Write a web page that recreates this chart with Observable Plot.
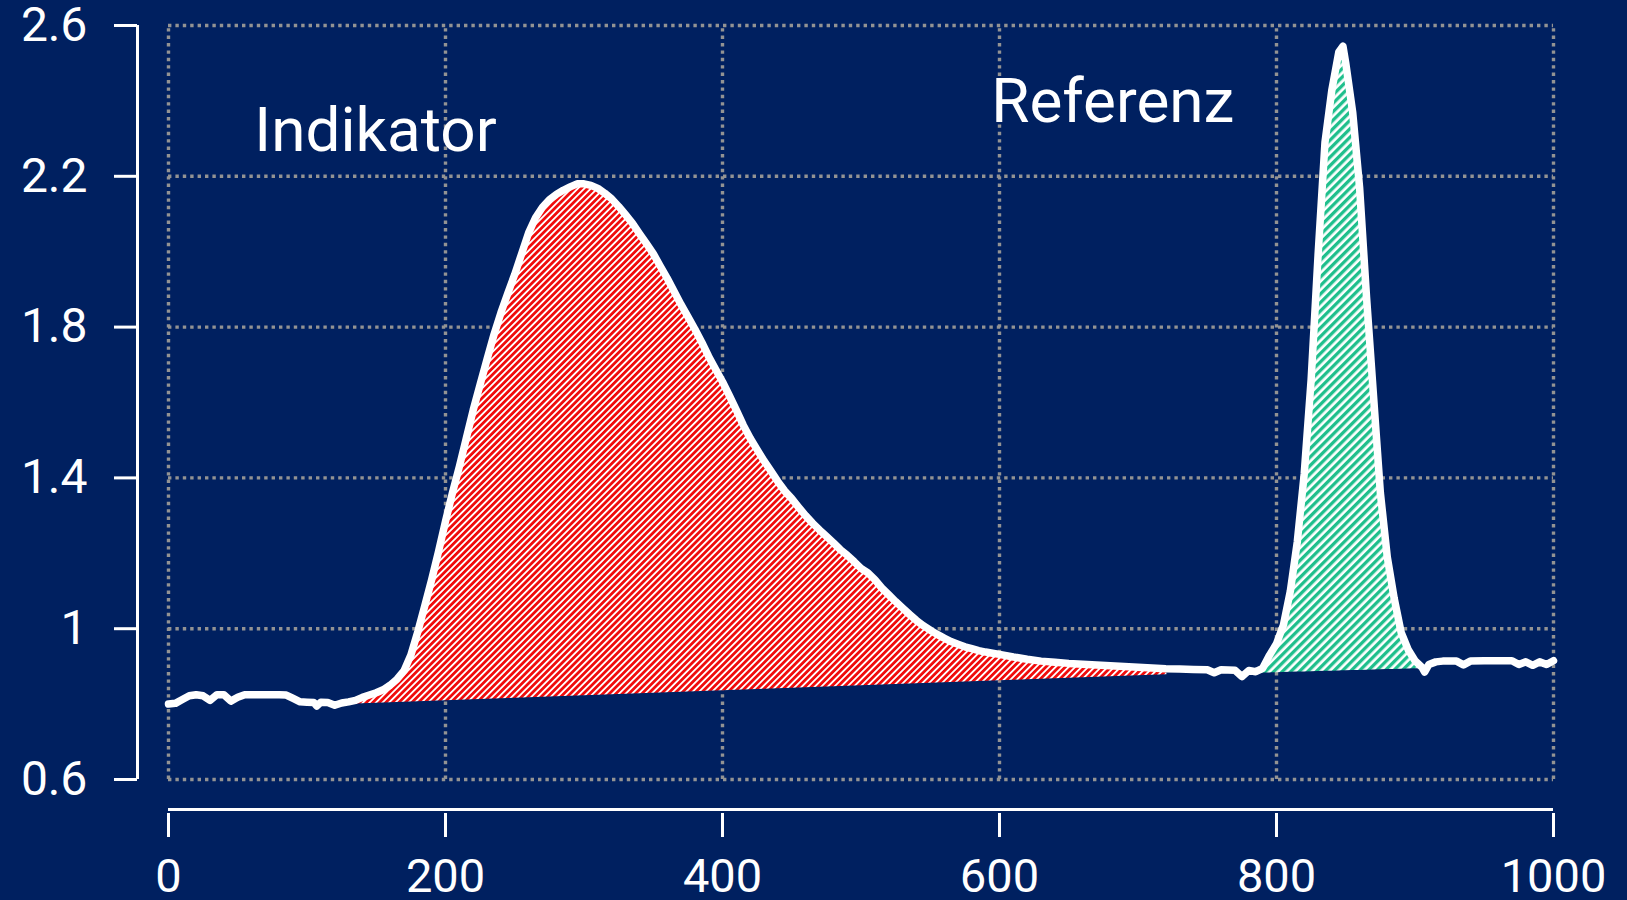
<!DOCTYPE html>
<html>
<head>
<meta charset="utf-8">
<script src="https://cdn.jsdelivr.net/npm/d3@7"></script>
<script src="https://cdn.jsdelivr.net/npm/@observablehq/plot@0.6"></script>
<style>
  html, body { margin: 0; padding: 0; background: #002060; }
  #chart { width: 1627px; height: 900px; }
</style>
</head>
<body>
<div id="chart"></div>
<script>
// ---- data ----
const xTicks = [0, 200, 400, 600, 800, 1000];
const xTickLabels = ["0", "200", "400", "600", "800", "1000"];
const yTicks = [0.6, 1, 1.4, 1.8, 2.2, 2.6];
const yTickLabels = ["0.6", "1", "1.4", "1.8", "2.2", "2.6"];

const wavelength = [
  0, 5, 10, 15, 20, 25, 30, 35, 40, 45, 50, 55, 60, 65, 70, 75, 80, 85, 90, 95,
  100, 105, 107, 110, 115, 120, 125, 130, 135, 140, 145, 150, 155, 160, 165, 170, 175, 180, 185, 190,
  195, 200, 205, 210, 215, 220, 225, 230, 235, 240, 245, 250, 255, 260, 265, 270, 275, 280, 285, 290,
  295, 300, 305, 310, 315, 320, 325, 330, 335, 340, 345, 350, 355, 360, 365, 370, 375, 380, 385, 390,
  395, 400, 405, 410, 415, 420, 425, 430, 435, 440, 445, 450, 455, 460, 465, 470, 475, 480, 485, 490,
  495, 500, 505, 510, 515, 520, 525, 530, 535, 540, 545, 550, 555, 560, 565, 570, 575, 580, 585, 590,
  595, 600, 610, 620, 630, 640, 650, 660, 670, 680, 690, 700, 710, 720, 730, 740, 750, 755, 760, 770,
  775, 780, 785, 790, 795, 800, 805, 810, 815, 820, 825, 830, 835, 840, 845, 848, 850, 855, 860, 865,
  870, 875, 880, 885, 890, 895, 900, 905, 907, 910, 915, 920, 930, 935, 940, 950, 960, 970, 975, 980,
  985, 990, 995, 1000
];
const signal = [
  0.800, 0.802, 0.812, 0.822, 0.825, 0.822, 0.810, 0.825, 0.825, 0.808, 0.818, 0.825, 0.825, 0.825, 0.825, 0.825, 0.825, 0.824, 0.815, 0.806,
  0.805, 0.804, 0.795, 0.805, 0.804, 0.797, 0.803, 0.806, 0.810, 0.818, 0.824, 0.830, 0.838, 0.850, 0.866, 0.888, 0.930, 0.992, 1.060, 1.130,
  1.205, 1.285, 1.360, 1.430, 1.505, 1.580, 1.648, 1.715, 1.780, 1.838, 1.890, 1.940, 1.995, 2.050, 2.090, 2.118, 2.138, 2.152, 2.163, 2.172,
  2.180, 2.180, 2.176, 2.168, 2.155, 2.140, 2.120, 2.098, 2.075, 2.048, 2.022, 1.995, 1.962, 1.930, 1.895, 1.860, 1.828, 1.795, 1.760, 1.722,
  1.688, 1.655, 1.618, 1.580, 1.540, 1.505, 1.475, 1.445, 1.418, 1.390, 1.365, 1.345, 1.322, 1.300, 1.280, 1.262, 1.245, 1.228, 1.210, 1.195,
  1.178, 1.160, 1.148, 1.130, 1.108, 1.090, 1.072, 1.055, 1.038, 1.022, 1.008, 0.996, 0.985, 0.975, 0.966, 0.959, 0.952, 0.947, 0.942, 0.938,
  0.935, 0.932, 0.925, 0.919, 0.914, 0.911, 0.908, 0.906, 0.904, 0.902, 0.900, 0.898, 0.896, 0.894, 0.893, 0.892, 0.891, 0.883, 0.891, 0.890,
  0.873, 0.889, 0.886, 0.895, 0.930, 0.960, 1.010, 1.100, 1.230, 1.410, 1.660, 1.990, 2.290, 2.430, 2.530, 2.545, 2.500, 2.370, 2.170, 1.880,
  1.620, 1.360, 1.190, 1.080, 0.990, 0.945, 0.915, 0.898, 0.885, 0.905, 0.912, 0.914, 0.914, 0.904, 0.914, 0.915, 0.915, 0.915, 0.905, 0.912,
  0.903, 0.912, 0.905, 0.915
];

// baseline (integration limits) of the two peaks
const indicatorBaseX = [133, 721];
const indicatorBaseY = [0.800, 0.878];
const referenceBaseX = [787, 905];
const referenceBaseY = [0.882, 0.894];

const peakLabels = ["Indikator", "Referenz"];
const peakLabelX = [62, 594];
const peakLabelY = [2.268, 2.343];

// ---- build area tables between baseline and curve ----
function peakArea(bx, by) {
  const rows = [{x: bx[0], lo: by[0], hi: by[0]}];
  wavelength.forEach((x, i) => {
    if (x > bx[0] && x < bx[1]) {
      const lo = by[0] + (by[1] - by[0]) * (x - bx[0]) / (bx[1] - bx[0]);
      rows.push({x, lo, hi: Math.max(lo, signal[i])});
    }
  });
  rows.push({x: bx[1], lo: by[1], hi: by[1]});
  return rows;
}
const indicatorArea = peakArea(indicatorBaseX, indicatorBaseY);
const referenceArea = peakArea(referenceBaseX, referenceBaseY);

const gridColor = "#939393";
const dotted = {stroke: gridColor, strokeWidth: 3.4, strokeDasharray: "3.4,4"};

const svg = Plot.plot({
  width: 1627,
  height: 900,
  marginLeft: 168,
  marginRight: 74,
  marginTop: 25,
  marginBottom: 121,
  style: {background: "#002060", color: "white", fontFamily: "Roboto, 'Open Sans', sans-serif"},
  x: {domain: [0, 1000], axis: null},
  y: {domain: [0.6, 2.6], axis: null},
  marks: [
    Plot.ruleX(xTicks, {y1: 0.6, y2: 2.6, ...dotted}),
    Plot.ruleY(yTicks, {x1: 0, x2: 1000, ...dotted}),
    Plot.areaY(indicatorArea, {x: "x", y1: "lo", y2: "hi", fill: "url(#redHatch)"}),
    Plot.areaY(referenceArea, {x: "x", y1: "lo", y2: "hi", fill: "url(#greenHatch)"}),
    Plot.line(signal, {x: wavelength, y: signal, stroke: "white", strokeWidth: 7.5, strokeLinejoin: "round", strokeLinecap: "round"}),
    Plot.text(peakLabels, {x: peakLabelX, y: peakLabelY, text: d => d, textAnchor: "start", lineAnchor: "bottom", fontSize: 62, fill: "white"}),
    // y axis, offset to the left of the frame
    Plot.ruleX([0], {y1: 0.6, y2: 2.6, dx: -31, stroke: "white", strokeWidth: 3}),
    Plot.axisY({ticks: yTicks, label: null, tickFormat: d => yTickLabels[yTicks.indexOf(d)], tickSize: 23, tickPadding: 27, dx: -31, fontSize: 48, stroke: "white", strokeWidth: 3, fill: "white"}),
    // x axis, offset below the frame
    Plot.ruleY([0.6], {x1: 0, x2: 1000, dy: 30, stroke: "white", strokeWidth: 3}),
    Plot.axisX({ticks: xTicks, label: null, tickFormat: d => xTickLabels[xTicks.indexOf(d)], tickSize: 24, tickPadding: 21, dy: 34, fontSize: 47, stroke: "white", strokeWidth: 3, fill: "white"})
  ]
});

// hatch patterns
const defs = d3.select(svg).insert("defs", ":first-child");
function hatch(id, color, period, share) {
  const p = defs.append("pattern")
    .attr("id", id)
    .attr("patternUnits", "userSpaceOnUse")
    .attr("width", period)
    .attr("height", period)
    .attr("patternTransform", "rotate(45)");
  p.append("rect").attr("width", period).attr("height", period).attr("fill", "white");
  p.append("rect").attr("width", period * share).attr("height", period).attr("fill", color);
}
hatch("redHatch", "#f00c0c", 4.6, 0.6);
hatch("greenHatch", "#1fbf8c", 6, 0.55);
const areas = d3.select(svg).selectAll('g[aria-label="area"]').nodes();
if (areas[0]) d3.select(areas[0]).selectAll("path").attr("fill", "url(#redHatch)");
if (areas[1]) d3.select(areas[1]).selectAll("path").attr("fill", "url(#greenHatch)");

document.getElementById("chart").appendChild(svg);
</script>
</body>
</html>
